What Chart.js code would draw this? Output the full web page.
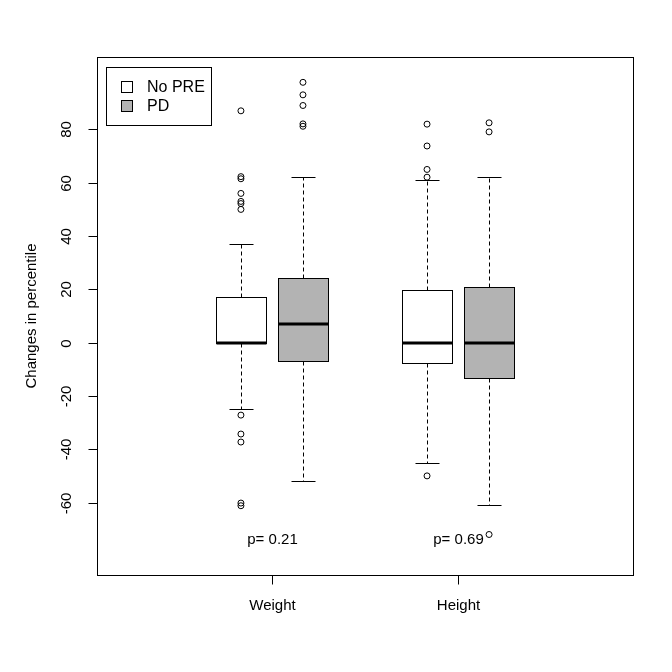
<!DOCTYPE html>
<html>
<head>
<meta charset="utf-8">
<script src="https://cdn.jsdelivr.net/npm/chart.js@4"></script>
<style>
html,body{margin:0;padding:0;background:#fff;}
#wrap{width:672px;height:672px;}
</style>
</head>
<body>
<div id="wrap"><canvas id="c" width="672" height="672"></canvas></div>
<script>
// ---- data ----
const categories = ['Weight', 'Height'];
const categoryPositions = [1.5, 4.5];
const groups = ['No PRE', 'PD'];
const boxPositions = [1, 2, 4, 5];       // Weight NoPRE, Weight PD, Height NoPRE, Height PD
const boxGroup = [0, 1, 0, 1];
const whiskerLow = [-25, -52, -45, -61];
const q1 = [0, -7, -7.5, -13.3];
const median = [0, 7, 0, 0];
const q3 = [17, 24.3, 19.7, 20.8];
const whiskerHigh = [37, 62, 61, 62];
const outliersWeightNoPRE = [87, 62.3, 61.5, 56, 53, 52.2, 50, -27.2, -34.3, -37.3, -60.2, -61.2];
const outliersWeightPD = [97.7, 93, 89, 82.1, 81.2];
const outliersHeightNoPRE = [82, 73.8, 65, 62.1, -50];
const outliersHeightPD = [82.5, 79.1, -72];
const pLabels = ['p= 0.21', 'p= 0.69'];
const pLabelY = -74;
const yTicks = [-60, -40, -20, 0, 20, 40, 60, 80];
const yLabel = 'Changes in percentile';
const groupColors = ['#ffffff', '#b3b3b3'];

const outlierLists = [outliersWeightNoPRE, outliersWeightPD, outliersHeightNoPRE, outliersHeightPD];
const outlierPoints = [];
outlierLists.forEach((list, i) => list.forEach(v => outlierPoints.push({x: boxPositions[i], y: v})));

const FONT = '15px "Liberation Sans", Arial, sans-serif';
const LEGEND_FONT = '16px "Liberation Sans", Arial, sans-serif';
const TICK_LEN = 9;

const boxPlugin = {
  id: 'boxplot',
  beforeDatasetsDraw(chart) {
    const ctx = chart.ctx, xs = chart.scales.x, ys = chart.scales.y;
    const px = v => Math.round(xs.getPixelForValue(v)) + 0.5;
    const py = v => Math.round(ys.getPixelForValue(v)) + 0.5;
    ctx.save();
    ctx.strokeStyle = '#000';
    boxPositions.forEach((p, i) => {
      const xl = px(p - 0.4), xr = px(p + 0.4), xc = px(p);
      const cl = px(p - 0.2), cr = px(p + 0.2);
      // whiskers (dashed)
      ctx.lineWidth = 1;
      ctx.setLineDash([4, 3]);
      ctx.beginPath();
      ctx.moveTo(xc, py(q3[i])); ctx.lineTo(xc, py(whiskerHigh[i]));
      ctx.moveTo(xc, py(q1[i])); ctx.lineTo(xc, py(whiskerLow[i]));
      ctx.stroke();
      ctx.setLineDash([]);
      // caps
      ctx.beginPath();
      ctx.moveTo(cl, py(whiskerHigh[i])); ctx.lineTo(cr, py(whiskerHigh[i]));
      ctx.moveTo(cl, py(whiskerLow[i])); ctx.lineTo(cr, py(whiskerLow[i]));
      ctx.stroke();
      // box
      const yt = py(q3[i]), yb = py(q1[i]);
      ctx.fillStyle = groupColors[boxGroup[i]];
      ctx.fillRect(xl, yt, xr - xl, yb - yt);
      ctx.strokeRect(xl, yt, xr - xl, yb - yt);
      // median
      ctx.lineWidth = 3;
      ctx.beginPath();
      const ym = Math.round(ys.getPixelForValue(median[i]));
      ctx.moveTo(xl, ym); ctx.lineTo(xr, ym);
      ctx.stroke();
    });
    ctx.restore();
  },
  afterDraw(chart) {
    const ctx = chart.ctx, xs = chart.scales.x, ys = chart.scales.y, a = chart.chartArea;
    ctx.save();
    ctx.strokeStyle = '#000';
    ctx.fillStyle = '#000';
    ctx.lineWidth = 1;
    // frame
    ctx.strokeRect(Math.round(a.left) + 0.5, Math.round(a.top) + 0.5,
      Math.round(a.right - a.left), Math.round(a.bottom - a.top));
    ctx.font = FONT;
    // y ticks
    yTicks.forEach(t => {
      const y = Math.round(ys.getPixelForValue(t)) + 0.5;
      ctx.beginPath();
      ctx.moveTo(Math.round(a.left) + 0.5, y); ctx.lineTo(Math.round(a.left) + 0.5 - TICK_LEN, y);
      ctx.stroke();
      ctx.save();
      ctx.translate(67, y);
      ctx.rotate(-Math.PI / 2);
      ctx.textAlign = 'center';
      ctx.textBaseline = 'middle';
      ctx.fillText(String(t), 0, 0);
      ctx.restore();
    });
    // x ticks
    categories.forEach((c, i) => {
      const x = Math.round(xs.getPixelForValue(categoryPositions[i])) + 0.5;
      ctx.beginPath();
      ctx.moveTo(x, Math.round(a.bottom) + 0.5); ctx.lineTo(x, Math.round(a.bottom) + 0.5 + TICK_LEN);
      ctx.stroke();
      ctx.textAlign = 'center';
      ctx.textBaseline = 'middle';
      ctx.fillText(c, x, 606);
      // p-values
      ctx.fillText(pLabels[i], x, Math.round(ys.getPixelForValue(pLabelY)));
    });
    // y label
    ctx.save();
    ctx.translate(32, (a.top + a.bottom) / 2);
    ctx.rotate(-Math.PI / 2);
    ctx.textAlign = 'center';
    ctx.textBaseline = 'middle';
    ctx.fillText(yLabel, 0, 0);
    ctx.restore();
    // legend
    ctx.strokeRect(106.5, 67.5, 105, 58);
    ctx.font = LEGEND_FONT;
    groups.forEach((g, i) => {
      const cy = 87 + i * 19;
      ctx.fillStyle = groupColors[i];
      ctx.fillRect(121.5, cy - 5.5, 11, 11);
      ctx.strokeRect(121.5, cy - 5.5, 11, 11);
      ctx.fillStyle = '#000';
      ctx.textAlign = 'left';
      ctx.textBaseline = 'middle';
      ctx.fillText(g, 147, cy + 1);
    });
    ctx.restore();
  }
};

new Chart(document.getElementById('c'), {
  type: 'scatter',
  data: {
    datasets: [{
      label: 'outliers',
      data: outlierPoints,
      pointRadius: 3,
      pointBorderWidth: 1,
      pointBorderColor: '#000',
      pointBackgroundColor: 'rgba(0,0,0,0)',
      showLine: false
    }]
  },
  options: {
    responsive: false,
    animation: false,
    devicePixelRatio: 1,
    layout: {padding: {left: 97, right: 39, top: 57, bottom: 97}},
    plugins: {legend: {display: false}, tooltip: {enabled: false}},
    scales: {
      x: {type: 'linear', min: -1.32, max: 7.32, display: false},
      y: {type: 'linear', min: -87.2, max: 107.2, display: false}
    }
  },
  plugins: [boxPlugin]
});
</script>
</body>
</html>
